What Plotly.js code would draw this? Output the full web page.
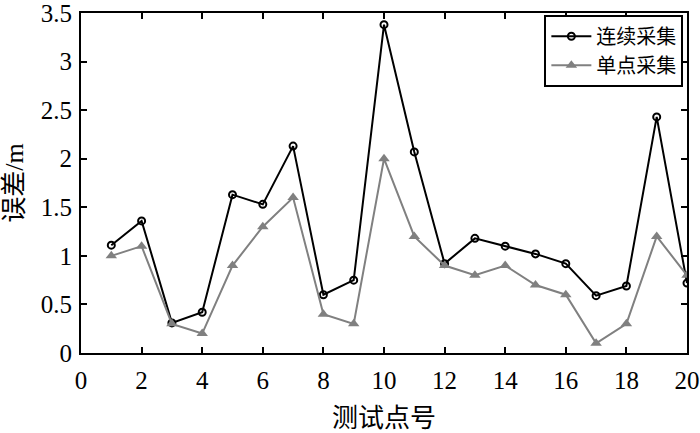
<!DOCTYPE html>
<html>
<head>
<meta charset="utf-8">
<script src="https://cdn.plot.ly/plotly-3.0.1.min.js"></script>
<style>
  html, body { margin: 0; padding: 0; background: #ffffff; }
  #chart { width: 700px; height: 433px; }
</style>
</head>
<body>
<div id="chart"></div>
<script>
// 测试点号 1..20
const points = [1, 2, 3, 4, 5, 6, 7, 8, 9, 10, 11, 12, 13, 14, 15, 16, 17, 18, 19, 20];
// 连续采集 error (m)
const continuous = [1.11, 1.36, 0.31, 0.42, 1.63, 1.53, 2.13, 0.60, 0.75, 3.38,
                    2.07, 0.92, 1.18, 1.10, 1.02, 0.92, 0.59, 0.69, 2.43, 0.72];
// 单点采集 error (m)
const single = [1.0, 1.1, 0.3, 0.2, 0.9, 1.3, 1.6, 0.4, 0.3, 2.0,
                1.2, 0.9, 0.8, 0.9, 0.7, 0.6, 0.1, 0.3, 1.2, 0.8];
const seriesNames = ['连续采集', '单点采集'];
const xTicks = [0, 2, 4, 6, 8, 10, 12, 14, 16, 18, 20];
const yTicks = [0, 0.5, 1, 1.5, 2, 2.5, 3, 3.5];

// Times-like digits, CJK falls back to Noto
const serif = 'Liberation Serif, Noto Sans CJK SC';
const axisBase = {
  showline: true,
  linecolor: '#000000',
  linewidth: 2,
  mirror: 'ticks',
  ticks: 'inside',
  ticklen: 6,
  tickwidth: 2,
  tickcolor: '#000000',
  showgrid: false,
  zeroline: false,
  fixedrange: true,
  ticklabeloverflow: 'allow',
  tickfont: { family: 'Liberation Serif', size: 25, color: '#000000' }
};

Plotly.newPlot('chart',
  [
    {
      x: points,
      y: continuous,
      name: seriesNames[0],
      type: 'scatter',
      mode: 'lines+markers',
      line: { color: '#000000', width: 2 },
      marker: { symbol: 'circle-open', size: 7, color: '#000000', line: { width: 2, color: '#000000' } }
    },
    {
      x: points,
      y: single,
      name: seriesNames[1],
      type: 'scatter',
      mode: 'lines+markers',
      line: { color: '#808080', width: 2 },
      marker: { symbol: 'triangle-up', size: 10, color: '#808080' }
    }
  ],
  {
    width: 700,
    height: 433,
    margin: { l: 81, r: 13, t: 13, b: 80 },
    paper_bgcolor: '#ffffff',
    plot_bgcolor: '#ffffff',
    font: { family: serif, size: 24, color: '#000000' },
    xaxis: Object.assign({}, axisBase, {
      range: [0, 20],
      tickvals: xTicks,
      ticktext: xTicks.map(String),
      ticklabelstandoff: 4,
      title: { text: '测试点号', font: { family: serif, size: 26, color: '#000000' }, standoff: 16 }
    }),
    yaxis: Object.assign({}, axisBase, {
      range: [0, 3.5],
      tickvals: yTicks,
      ticktext: yTicks.map(String),
      ticklabelstandoff: 2,
      title: { text: '误差/m', font: { family: serif, size: 26, color: '#000000' }, standoff: 16 }
    }),
    showlegend: true,
    legend: {
      x: 0.994,
      xanchor: 'right',
      y: 0.995,
      yanchor: 'top',
      bgcolor: '#ffffff',
      bordercolor: '#000000',
      borderwidth: 2,
      itemwidth: 40,
      tracegroupgap: 0,
      font: { family: serif, size: 20, color: '#000000' }
    }
  },
  { displayModeBar: false, responsive: false }
);
</script>
</body>
</html>
